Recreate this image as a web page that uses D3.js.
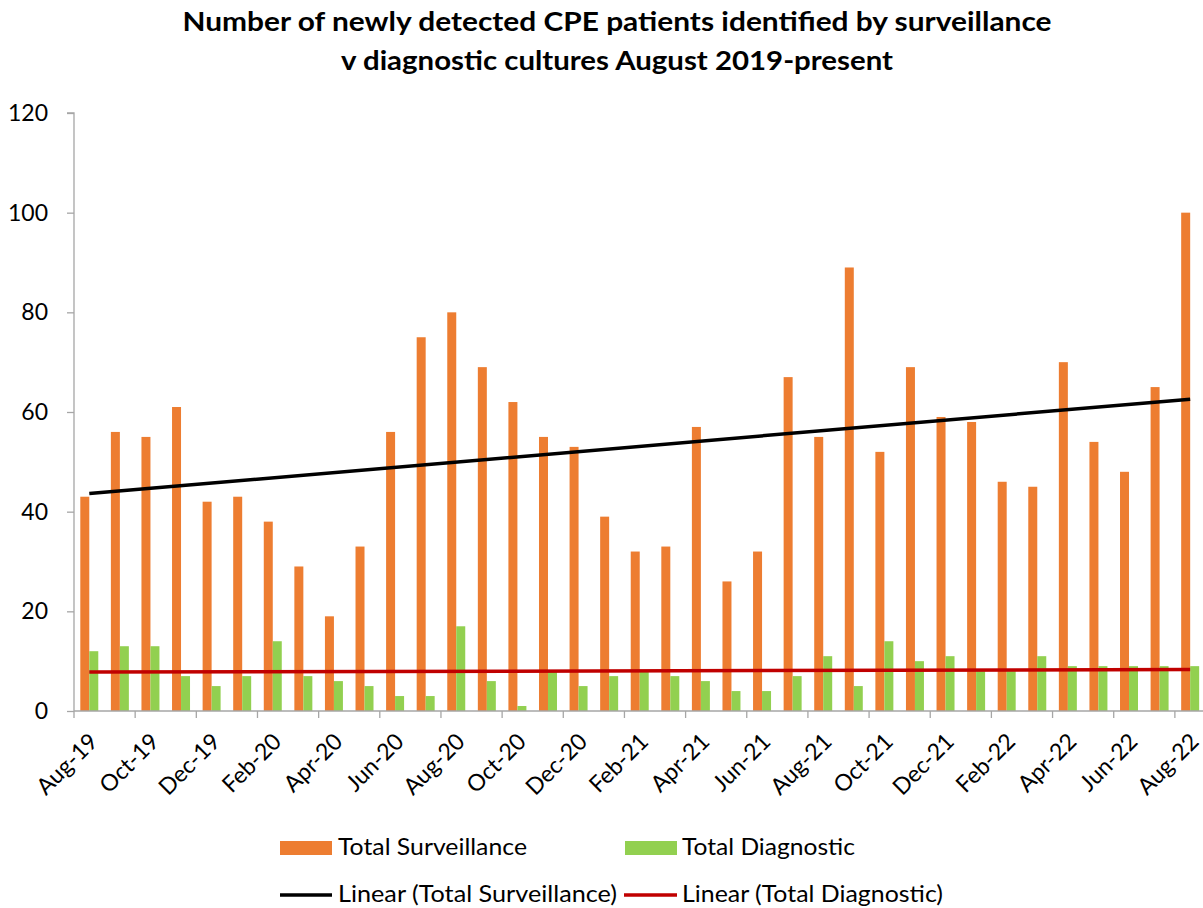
<!DOCTYPE html>
<html>
<head>
<meta charset="utf-8">
<script src="https://cdnjs.cloudflare.com/ajax/libs/d3/7.8.5/d3.min.js"></script>
<style>
  body { margin: 0; background: #fff; }
  svg text { font-family: Lato, "Liberation Sans", sans-serif; fill: #000; }
</style>
</head>
<body>
<div id="chart"></div>
<script>
// months Aug-19 .. Aug-22
var months = ["Aug-19","Sep-19","Oct-19","Nov-19","Dec-19","Jan-20","Feb-20","Mar-20","Apr-20","May-20",
  "Jun-20","Jul-20","Aug-20","Sep-20","Oct-20","Nov-20","Dec-20","Jan-21","Feb-21","Mar-21",
  "Apr-21","May-21","Jun-21","Jul-21","Aug-21","Sep-21","Oct-21","Nov-21","Dec-21","Jan-22",
  "Feb-22","Mar-22","Apr-22","May-22","Jun-22","Jul-22","Aug-22"];

var surveillance = [43,56,55,61,42,43,38,29,19,33,56,75,80,69,62,55,53,39,32,33,
  57,26,32,67,55,89,52,69,59,58,46,45,70,54,48,65,100];

var diagnostic = [12,13,13,7,5,7,14,7,6,5,3,3,17,6,1,8,5,7,8,7,
  6,4,4,7,11,5,14,10,11,8,8,11,9,9,9,9,9];

var yTicks = [0,20,40,60,80,100,120];

var titleLines = ["Number of newly detected CPE patients identified by surveillance",
                  "v diagnostic cultures August 2019-present"];
var titleWidths = [869, 552];

var W = 1203, H = 908;
var plotLeft = 74, plotRight = 74 + 37 * 30.58, plotTop = 113, plotBottom = 711;
var axisGrey = "#a6a6a6";

var svg = d3.select("#chart").append("svg")
    .attr("width", W).attr("height", H);

// title
svg.append("g").selectAll("text")
  .data(titleLines)
  .enter().append("text")
    .attr("x", 617)
    .attr("y", function(d, i) { return 31 + i * 39; })
    .attr("text-anchor", "middle")
    .attr("textLength", function(d, i) { return titleWidths[i]; })
    .attr("lengthAdjust", "spacingAndGlyphs")
    .style("font-size", "26px")
    .style("font-weight", "bold")
    .text(function(d) { return d; });

var x = d3.scaleBand()
    .domain(d3.range(months.length))
    .range([plotLeft, plotRight])
    .padding(0);

var xs = d3.scaleBand()
    .domain(["s", "d"])
    .range([0, x.bandwidth()])
    .paddingOuter(0.7)
    .paddingInner(0);

var y = d3.scaleLinear()
    .domain([0, 120])
    .range([plotBottom, plotTop]);

// bars
svg.append("g").selectAll("rect")
  .data(surveillance)
  .enter().append("rect")
    .attr("x", function(d, i) { return x(i) + xs("s"); })
    .attr("y", function(d) { return y(d); })
    .attr("width", xs.bandwidth())
    .attr("height", function(d) { return plotBottom - y(d); })
    .attr("fill", "#ED7D31");

svg.append("g").selectAll("rect")
  .data(diagnostic)
  .enter().append("rect")
    .attr("x", function(d, i) { return x(i) + xs("d"); })
    .attr("y", function(d) { return y(d); })
    .attr("width", xs.bandwidth())
    .attr("height", function(d) { return plotBottom - y(d); })
    .attr("fill", "#92D050");

// y axis
var yAxis = svg.append("g")
    .attr("transform", "translate(" + plotLeft + ",0)")
    .call(d3.axisLeft(y).tickValues(yTicks).tickSize(7).tickPadding(19));
yAxis.selectAll("line, path").attr("stroke", axisGrey).attr("stroke-width", 1.3);
yAxis.select(".domain").attr("d", "M-7," + plotTop + "H0V" + plotBottom);
yAxis.selectAll("text")
    .style("font-size", "23px")
    .style("font-family", "Lato, sans-serif");

// x axis (ticks between categories, every 2nd)
var xg = svg.append("g");
xg.append("line")
    .attr("x1", plotLeft).attr("x2", plotRight)
    .attr("y1", plotBottom).attr("y2", plotBottom)
    .attr("stroke", axisGrey).attr("stroke-width", 1.3);
xg.selectAll(".xt")
  .data(d3.range(0, months.length, 2))
  .enter().append("line")
    .attr("class", "xt")
    .attr("x1", function(i) { return x(i); })
    .attr("x2", function(i) { return x(i); })
    .attr("y1", plotBottom).attr("y2", plotBottom + 7)
    .attr("stroke", axisGrey).attr("stroke-width", 1.3);
xg.selectAll(".xl")
  .data(d3.range(0, months.length, 2))
  .enter().append("text")
    .attr("class", "xl")
    .attr("text-anchor", "end")
    .attr("transform", function(i) {
      return "translate(" + (x(i) + x.bandwidth() / 2 + 10) + "," + (plotBottom + 32) + ") rotate(-45)";
    })
    .style("font-size", "23px")
    .text(function(i) { return months[i]; });

// linear trend lines (least squares like Excel)
function fit(vals) {
  var n = vals.length, xsum = 0, ysum = 0, xy = 0, xx = 0;
  vals.forEach(function(v, i) { var t = i + 1; xsum += t; ysum += v; xy += t * v; xx += t * t; });
  var b = (n * xy - xsum * ysum) / (n * xx - xsum * xsum);
  var a = (ysum - b * xsum) / n;
  return [[0, a + b], [n - 1, a + b * n]];
}

var line = d3.line()
    .x(function(d) { return x(d[0]) + x.bandwidth() / 2; })
    .y(function(d) { return y(d[1]); });

svg.append("path")
    .datum(fit(surveillance))
    .attr("fill", "none").attr("stroke", "#000").attr("stroke-width", 3.5)
    .attr("d", line);

svg.append("path")
    .datum(fit(diagnostic))
    .attr("fill", "none").attr("stroke", "#C00000").attr("stroke-width", 3.5)
    .attr("d", line);

// legend
var leg = svg.append("g");
function legText(xp, yp, w, t) {
  leg.append("text").attr("x", xp).attr("y", yp)
    .attr("textLength", w).attr("lengthAdjust", "spacingAndGlyphs")
    .style("font-size", "23px").text(t);
}
leg.append("rect").attr("x", 280).attr("y", 841).attr("width", 52).attr("height", 14).attr("fill", "#ED7D31");
legText(338, 855, 189, "Total Surveillance");
leg.append("rect").attr("x", 625).attr("y", 841).attr("width", 52).attr("height", 14).attr("fill", "#92D050");
legText(682, 855, 173, "Total Diagnostic");
leg.append("line").attr("x1", 280).attr("x2", 332).attr("y1", 895).attr("y2", 895)
    .attr("stroke", "#000").attr("stroke-width", 3.5);
legText(338, 902, 279, "Linear (Total Surveillance)");
leg.append("line").attr("x1", 624).attr("x2", 677).attr("y1", 895).attr("y2", 895)
    .attr("stroke", "#C00000").attr("stroke-width", 3.5);
legText(682, 902, 261, "Linear (Total Diagnostic)");
</script>
</body>
</html>
